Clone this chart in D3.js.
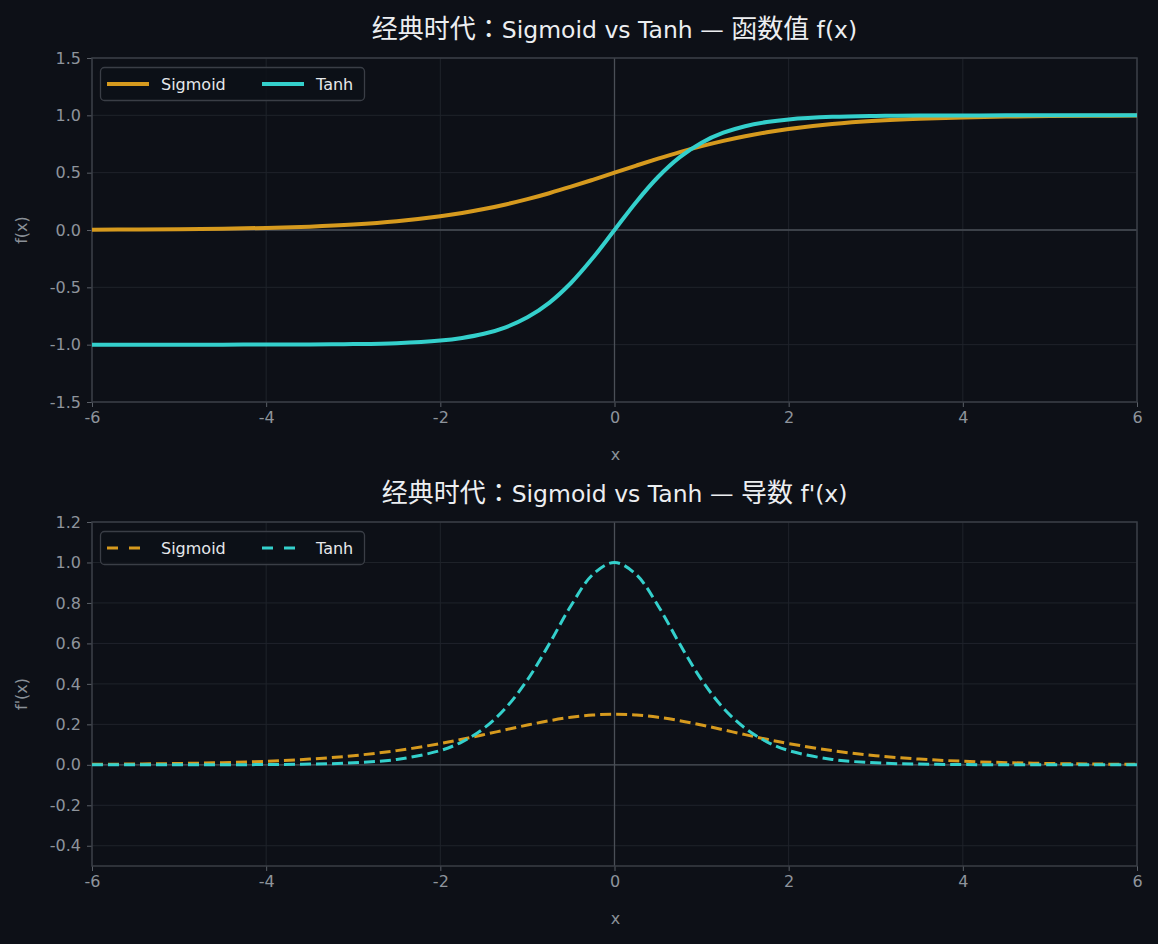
<!DOCTYPE html>
<html><head><meta charset="utf-8">
<script src="https://cdn.jsdelivr.net/npm/d3@7"></script>
<style>
html,body{margin:0;padding:0;background:#0d1017;}
svg{display:block;}
</style></head>
<body>
<svg id="c" width="1158" height="944"></svg>
<script>
const xs = [-6,-5.5,-5,-4.5,-4,-3.5,-3,-2.5,-2,-1.75,-1.5,-1.25,-1,-0.75,-0.5,-0.25,0,0.25,0.5,0.75,1,1.25,1.5,1.75,2,2.5,3,3.5,4,4.5,5,5.5,6];
const sigmoidVals = [0.00247,0.00407,0.00669,0.01099,0.01799,0.02931,0.04743,0.07586,0.11920,0.14805,0.18243,0.22270,0.26894,0.32082,0.37754,0.43782,0.5,0.56218,0.62246,0.67918,0.73106,0.77730,0.81757,0.85195,0.88080,0.92414,0.95257,0.97069,0.98201,0.98901,0.99331,0.99593,0.99753];
const tanhVals = [-0.99999,-0.99997,-0.99991,-0.99975,-0.99933,-0.99818,-0.99505,-0.98661,-0.96403,-0.94138,-0.90515,-0.84828,-0.76159,-0.63515,-0.46212,-0.24492,0,0.24492,0.46212,0.63515,0.76159,0.84828,0.90515,0.94138,0.96403,0.98661,0.99505,0.99818,0.99933,0.99975,0.99991,0.99997,0.99999];
const sigmoidDeriv = [0.00247,0.00405,0.00665,0.01085,0.01766,0.02845,0.04518,0.07010,0.10499,0.12613,0.14915,0.17311,0.19661,0.21790,0.23500,0.24613,0.25,0.24613,0.23500,0.21790,0.19661,0.17311,0.14915,0.12613,0.10499,0.07010,0.04518,0.02845,0.01766,0.01085,0.00665,0.00405,0.00247];
const tanhDeriv = [0.00002,0.00007,0.00018,0.00049,0.00134,0.00364,0.00987,0.02660,0.07065,0.11380,0.18071,0.28042,0.41997,0.59658,0.78645,0.94001,1,0.94001,0.78645,0.59658,0.41997,0.28042,0.18071,0.11380,0.07065,0.02660,0.00987,0.00364,0.00134,0.00049,0.00018,0.00007,0.00002];
const xTicks = [-6,-4,-2,0,2,4,6];
const yTicks1 = [-1.5,-1.0,-0.5,0.0,0.5,1.0,1.5];
const yTicks2 = [-0.4,-0.2,0.0,0.2,0.4,0.6,0.8,1.0,1.2];
const seriesNames = ["Sigmoid","Tanh"];
const titles = ["经典时代：Sigmoid vs Tanh — 函数值 f(x)","经典时代：Sigmoid vs Tanh — 导数 f'(x)"];
const yLabels = ["f(x)","f'(x)"];
const colors = ["#d69a1e","#34d0cc"];

const svg = d3.select("#c");
const FONT = "'DejaVu Sans', 'Noto Sans CJK JP', sans-serif";
const L = 92, R = 1137;

function titleText(sel, str){
  const runs = str.match(/[\u3000-\u9fff\uff00-\uffef]+|[^\u3000-\u9fff\uff00-\uffef]+/g);
  runs.forEach(r=>{
    const cjk = /[\u3000-\u9fff\uff00-\uffef]/.test(r);
    sel.append("tspan").text(r).style("font-size", cjk ? "26px" : "23.5px")
      .style("font-family", cjk ? "'Noto Sans CJK JP', sans-serif" : FONT);
  });
}

function panel(top, bottom, yDomain, yTicks, s1, s2, title, ylab, dashed){
  const x = d3.scaleLinear().domain([-6,6]).range([L,R]);
  const y = d3.scaleLinear().domain(yDomain).range([bottom,top]);
  const g = svg.append("g");
  g.selectAll(".gx").data(xTicks).join("line").attr("x1",d=>x(d)).attr("x2",d=>x(d)).attr("y1",top).attr("y2",bottom).attr("stroke","#1f232b").attr("stroke-width",1);
  g.selectAll(".gy").data(yTicks).join("line").attr("y1",d=>y(d)).attr("y2",d=>y(d)).attr("x1",L).attr("x2",R).attr("stroke","#1f232b").attr("stroke-width",1);
  g.append("line").attr("x1",x(0)).attr("x2",x(0)).attr("y1",top).attr("y2",bottom).attr("stroke","#4a4f57").attr("stroke-width",1.3);
  g.append("line").attr("y1",y(0)).attr("y2",y(0)).attr("x1",L).attr("x2",R).attr("stroke","#4a4f57").attr("stroke-width",1.3);
  const ax = g.append("g").attr("transform",`translate(0,${bottom})`).call(d3.axisBottom(x).tickValues(xTicks).tickSize(5).tickPadding(5));
  const ay = g.append("g").attr("transform",`translate(${L},0)`).call(d3.axisLeft(y).tickValues(yTicks).tickSize(5).tickPadding(6));
  [ax,ay].forEach(a=>{
    a.select(".domain").remove();
    a.selectAll("line").attr("stroke","#5a5f67");
    a.selectAll("text").attr("fill","#8e949c").style("font-family",FONT).style("font-size","16px");
  });
  ax.selectAll("text").text(d=>d3.format("d")(d).replace("−","-"));
  ay.selectAll("text").text(d=>d3.format(".1f")(d).replace("−","-"));
  g.append("rect").attr("x",L).attr("y",top).attr("width",R-L).attr("height",bottom-top).attr("fill","none").attr("stroke","#3a3e46").attr("stroke-width",1.5);
  const line = d3.line().x((d,i)=>x(xs[i])).y(d=>y(d)).curve(d3.curveCatmullRom.alpha(0.5));
  [s1,s2].forEach((s,i)=>{
    const p = g.append("path").datum(s).attr("d",line).attr("fill","none").attr("stroke",colors[i]).attr("stroke-width",dashed?3:4).attr("stroke-linecap","butt");
    if(dashed) p.attr("stroke-dasharray","11,5");
  });
  const lg = g.append("g");
  lg.append("rect").attr("x",100.5).attr("y",top+9.5).attr("width",264).attr("height",33).attr("rx",4).attr("fill","#0d1017").attr("fill-opacity",0.85).attr("stroke","#3a3e46").attr("stroke-width",1.3);
  const lx = [107,262];
  seriesNames.forEach((n,i)=>{
    const yy = top+26;
    const ln = lg.append("line").attr("x1",lx[i]).attr("x2",lx[i]+42).attr("y1",yy).attr("y2",yy).attr("stroke",colors[i]).attr("stroke-width",dashed?3:4);
    if(dashed) ln.attr("stroke-dasharray","11,11");
    lg.append("text").attr("x",lx[i]+54).attr("y",yy+5.5).text(n).attr("fill","#e6e8eb").style("font-family",FONT).style("font-size","16px");
  });
  const t = svg.append("text").attr("x",(L+R)/2).attr("y",top-20).attr("text-anchor","middle").attr("fill","#eceef1").style("font-family",FONT).style("font-size","23.5px");
  titleText(t, title);
  svg.append("text").attr("x",(L+R)/2+1).attr("y",bottom+58).attr("text-anchor","middle").text("x").attr("fill","#8a9098").style("font-family",FONT).style("font-size","16px");
  svg.append("text").attr("transform",`translate(27,${(top+bottom)/2}) rotate(-90)`).attr("text-anchor","middle").text(ylab).attr("fill","#8a9098").style("font-family",FONT).style("font-size","16px");
}

panel(58,402,[-1.5,1.5],yTicks1,sigmoidVals,tanhVals,titles[0],yLabels[0],false);
panel(522,866,[-0.5,1.2],yTicks2,sigmoidDeriv,tanhDeriv,titles[1],yLabels[1],true);
</script>
</body></html>
